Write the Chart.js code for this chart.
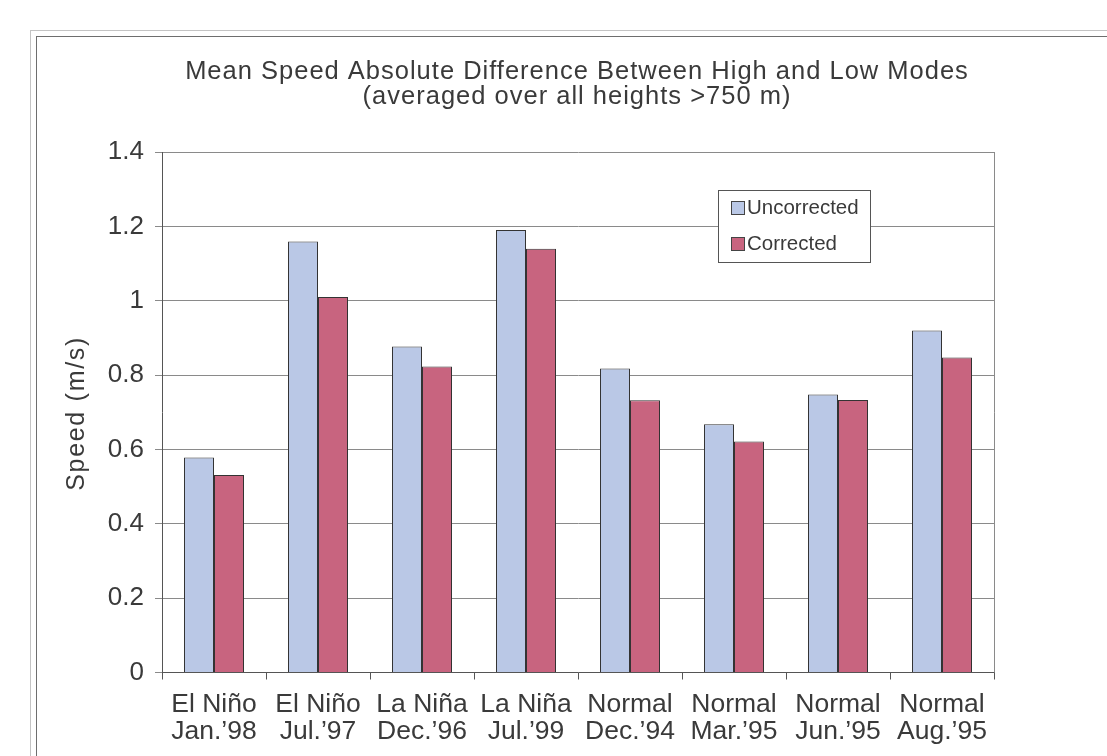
<!DOCTYPE html>
<html>
<head>
<meta charset="utf-8">
<script src="https://cdn.jsdelivr.net/npm/chart.js@4/dist/chart.umd.min.js"></script>
<style>
  html, body { margin: 0; padding: 0; background: #ffffff; overflow: hidden; }
  #frameOuter { position: absolute; left: 30px; top: 30px; width: 1200px; height: 900px; border: 1px solid #c4c4c4; }
  #frameInner { position: absolute; left: 36px; top: 36px; width: 1200px; height: 900px; border: 1px solid #6e6e6e; }
  #wrap { position: absolute; left: 0; top: 0; width: 1107px; height: 756px; }
</style>
</head>
<body>
<div id="frameOuter"></div>
<div id="frameInner"></div>
<div id="wrap"><canvas id="c" width="1107" height="756"></canvas></div>
<script>
// ---- data ----
const categories = [
  ["El Niño", "Jan.’98"],
  ["El Niño", "Jul.’97"],
  ["La Niña", "Dec.’96"],
  ["La Niña", "Jul.’99"],
  ["Normal", "Dec.’94"],
  ["Normal", "Mar.’95"],
  ["Normal", "Jun.’95"],
  ["Normal", "Aug.’95"]
];
const seriesNames = ["Uncorrected", "Corrected"];
const uncorrected = [0.578, 1.159, 0.877, 1.190, 0.818, 0.668, 0.748, 0.920];
const corrected   = [0.531, 1.010, 0.823, 1.140, 0.732, 0.621, 0.733, 0.847];
const titleLines = ["Mean Speed Absolute Difference Between High and Low Modes", "(averaged over all heights >750 m)"];
const yAxisTitle = "Speed (m/s)";
const yMin = 0, yMax = 1.4, yStep = 0.2;

const FONT = "'Liberation Sans', Arial, sans-serif";
const TEXT = "#3a3a3a";

const titlePlugin = {
  id: 'titles',
  afterDraw(chart) {
    const ctx = chart.ctx;
    const a = chart.chartArea;
    const cx = (a.left + a.right) / 2 - 1.5;
    ctx.save();
    ctx.fillStyle = TEXT;
    ctx.font = "25.5px " + FONT;
    if ('letterSpacing' in ctx) ctx.letterSpacing = '1px';
    ctx.textAlign = 'center';
    ctx.textBaseline = 'alphabetic';
    titleLines.forEach((t, i) => ctx.fillText(t, cx + 0.5, 78.5 + i * 25));
    ctx.restore();

    // y axis title (rotated)
    ctx.save();
    ctx.fillStyle = TEXT;
    ctx.font = "25px " + FONT;
    if ('letterSpacing' in ctx) ctx.letterSpacing = '1.7px';
    ctx.translate(77, (a.top + a.bottom) / 2 + 2);
    ctx.rotate(-Math.PI / 2);
    ctx.textAlign = 'center';
    ctx.textBaseline = 'middle';
    ctx.fillText(yAxisTitle, 0.85, 0);
    ctx.restore();
  }
};

const legendPlugin = {
  id: 'boxLegend',
  afterDraw(chart) {
    const ctx = chart.ctx;
    const x = 718.5, y = 190.5, w = 152, h = 72;
    ctx.save();
    ctx.fillStyle = '#ffffff';
    ctx.fillRect(x, y, w, h);
    ctx.strokeStyle = '#555555';
    ctx.lineWidth = 1;
    ctx.strokeRect(x, y, w, h);
    chart.data.datasets.forEach((ds, i) => {
      const sy = 201.5 + i * 36;
      ctx.fillStyle = ds.backgroundColor;
      ctx.fillRect(731.5, sy, 13, 13);
      ctx.strokeStyle = '#444444';
      ctx.strokeRect(731.5, sy, 13, 13);
      ctx.fillStyle = TEXT;
      ctx.font = "20.5px " + FONT;
      ctx.textBaseline = 'middle';
      ctx.textAlign = 'left';
      ctx.fillText(ds.label, 747, sy + 7);
    });
    ctx.restore();
  }
};

const frameRight = {
  id: 'plotBorder',
  beforeDatasetsDraw(chart) {
    const a = chart.chartArea, ctx = chart.ctx;
    ctx.save();
    ctx.strokeStyle = '#8a8a8a';
    ctx.lineWidth = 1;
    ctx.beginPath();
    ctx.moveTo(Math.round(a.right) + 0.5, a.top);
    ctx.lineTo(Math.round(a.right) + 0.5, a.bottom);
    ctx.stroke();
    ctx.restore();
  }
};

new Chart(document.getElementById('c'), {
  type: 'bar',
  data: {
    labels: categories,
    datasets: [
      { label: seriesNames[0], data: uncorrected, backgroundColor: '#BAC8E6', borderColor: '#333333', borderWidth: 1 },
      { label: seriesNames[1], data: corrected, backgroundColor: '#C8647F', borderColor: '#333333', borderWidth: 1 }
    ]
  },
  plugins: [frameRight, legendPlugin, titlePlugin],
  options: {
    responsive: false,
    animation: false,
    devicePixelRatio: 1,
    layout: { padding: { left: 0, top: 152, right: 113, bottom: 0 } },
    datasets: { bar: { categoryPercentage: 0.577, barPercentage: 1.0 } },
    plugins: {
      legend: { display: false },
      tooltip: { enabled: false },
      title: { display: false }
    },
    scales: {
      x: {
        afterFit(scale) { scale.height = 83.5; },
        grid: { display: true, drawOnChartArea: false, drawTicks: true, tickLength: 7, color: '#555555', offset: true },
        border: { display: true, color: '#555555', width: 1 },
        ticks: { color: TEXT, font: { family: FONT, size: 26.5, lineHeight: 1.02 }, padding: 12, maxRotation: 0, autoSkip: false }
      },
      y: {
        min: yMin, max: yMax,
        afterFit(scale) { scale.width = 162; },
        grid: { color: '#8a8a8a', tickLength: 7, drawTicks: true },
        border: { display: true, color: '#555555', width: 1 },
        ticks: {
          stepSize: yStep, color: TEXT, font: { family: FONT, size: 26 }, padding: 11,
          callback: (v) => String(Number(v.toFixed(1)))
        },
        title: { display: false, text: yAxisTitle }
      }
    }
  }
});
</script>
</body>
</html>
